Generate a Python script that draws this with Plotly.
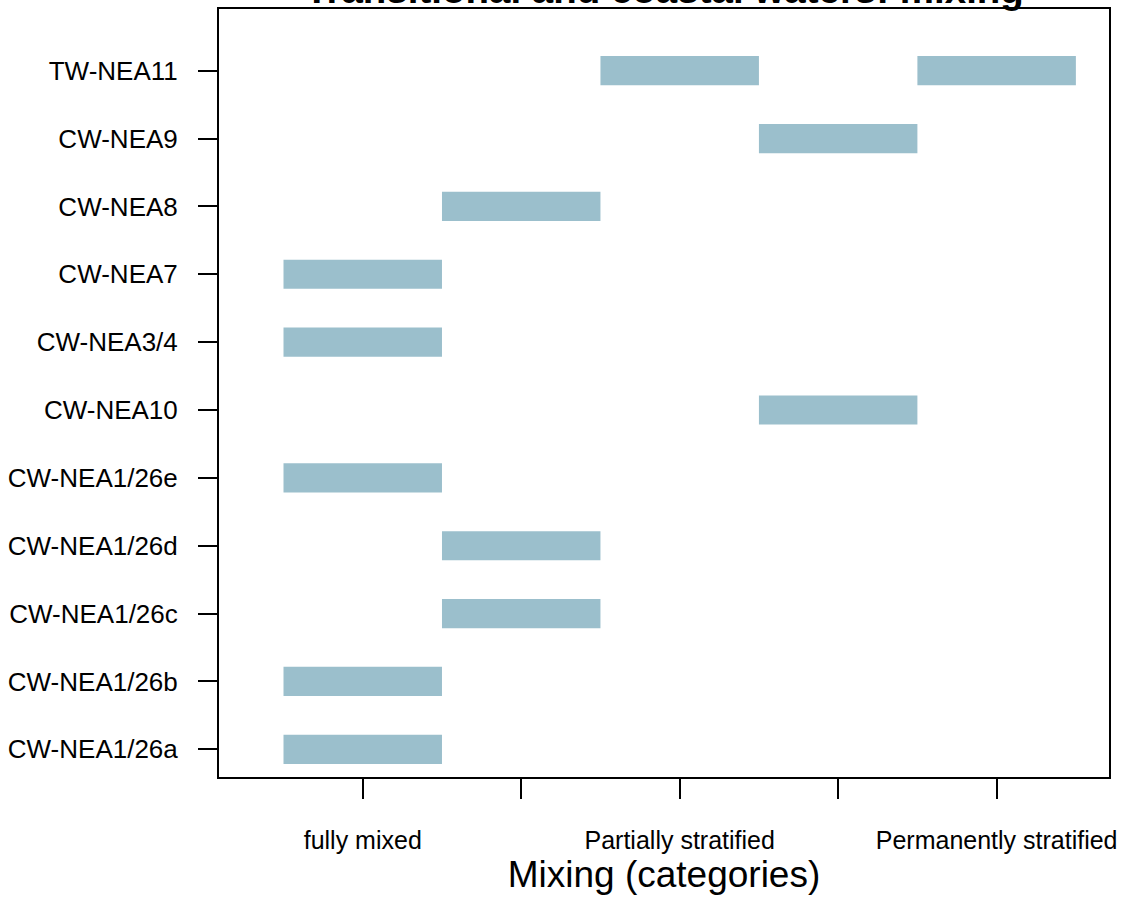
import plotly.graph_objects as go

# Water bodies (bottom to top on the y axis)
water_bodies = [
    "CW-NEA1/26a", "CW-NEA1/26b", "CW-NEA1/26c", "CW-NEA1/26d", "CW-NEA1/26e",
    "CW-NEA10", "CW-NEA3/4", "CW-NEA7", "CW-NEA8", "CW-NEA9", "TW-NEA11",
]

# Mixing category assigned to each water body (1 = fully mixed ... 5 = permanently stratified)
body_of_record = [
    "CW-NEA1/26a", "CW-NEA1/26b", "CW-NEA1/26c", "CW-NEA1/26d", "CW-NEA1/26e",
    "CW-NEA10", "CW-NEA3/4", "CW-NEA7", "CW-NEA8", "CW-NEA9", "TW-NEA11", "TW-NEA11",
]
mixing_category = [1, 1, 2, 2, 1, 4, 1, 1, 2, 4, 3, 5]

# Mixing axis ticks and labels
mix_ticks = [1, 2, 3, 4, 5]
mix_labels = ["fully mixed", "", "Partially stratified", "", "Permanently stratified"]

FONT = "Liberation Sans, Arial, sans-serif"
BAR_COLOR = "#9BBFCC"

row_pos = [water_bodies.index(b) + 1 for b in body_of_record]

fig = go.Figure(
    go.Bar(
        orientation="h",
        y=row_pos,
        x=[1.0] * len(mixing_category),
        base=[c - 0.5 for c in mixing_category],
        width=0.43,
        marker=dict(color=BAR_COLOR, line=dict(width=0)),
        hovertext=body_of_record,
        showlegend=False,
    )
)

fig.update_layout(
    width=1134,
    height=902,
    paper_bgcolor="white",
    plot_bgcolor="white",
    margin=dict(l=219, r=25, t=9, b=125),
    barmode="overlay",
    font=dict(family=FONT, color="black"),
    annotations=[
        dict(
            text="<b>Transitional and coastal waters: mixing</b>",
            xref="paper", yref="paper",
            x=0.5, y=1.026,
            xanchor="center", yanchor="middle",
            showarrow=False,
            font=dict(family=FONT, size=38.5, color="black"),
        )
    ],
)

fig.update_xaxes(
    range=[0.093, 5.709],
    automargin=False,
    tickmode="array",
    tickvals=mix_ticks,
    ticktext=mix_labels,
    ticks="outside",
    ticklen=20,
    tickwidth=1.5,
    tickcolor="black",
    ticklabelstandoff=20,
    tickfont=dict(family=FONT, size=25, color="black"),
    showline=True,
    linecolor="black",
    linewidth=2,
    mirror=True,
    showgrid=False,
    zeroline=False,
    title=dict(
        text="Mixing (categories)",
        font=dict(family=FONT, size=37, color="black"),
        standoff=0,
    ),
)

fig.update_yaxes(
    range=[0.592, 11.909],
    automargin=False,
    tickmode="array",
    tickvals=list(range(1, len(water_bodies) + 1)),
    ticktext=water_bodies,
    ticks="outside",
    ticklen=19,
    tickwidth=1.5,
    tickcolor="black",
    ticklabelstandoff=15,
    tickfont=dict(family=FONT, size=26, color="black"),
    showline=True,
    linecolor="black",
    linewidth=2,
    mirror=True,
    showgrid=False,
    zeroline=False,
)

fig.write_html("out.html")
